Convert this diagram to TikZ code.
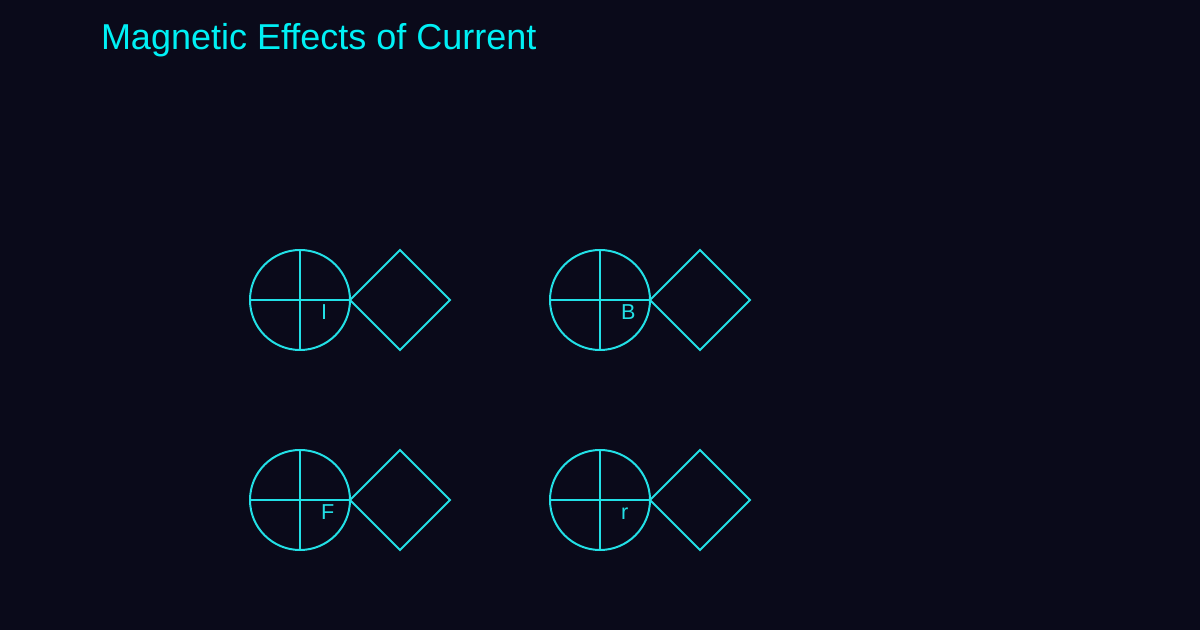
\documentclass[tikz,border=0pt]{standalone}
\usepackage{fontspec}
\setmainfont{Liberation Sans}
\usetikzlibrary{shapes.geometric}
\definecolor{bgnavy}{RGB}{10,10,26}
\definecolor{wirecyan}{RGB}{34,224,230}
\definecolor{titlecyan}{RGB}{0,240,245}

\begin{document}
\begin{tikzpicture}[x=0.5pt,y=-0.5pt,line width=1pt,
  coil/.style={circle,draw=wirecyan,inner sep=0pt,outer sep=0pt,minimum size=50pt},
  gem/.style={diamond,draw=wirecyan,inner sep=0pt,outer sep=0pt,minimum width=50pt,minimum height=50pt},
  sym/.style={anchor=base west,inner sep=0pt,text=wirecyan,font=\fontsize{10.8}{12}\selectfont}]

\fill [bgnavy] (0,0) rectangle (1200,630);
\useasboundingbox (0,0) rectangle (1200,630);

\node [anchor=base west,inner sep=0pt,text=titlecyan,font=\fontsize{18}{21}\selectfont] (title) at (100,50) {Magnetic Effects of Current};

% four field units
\foreach \cx/\cy/\lbl/\nm in {300/300/I/cur, 600/300/B/fld, 300/500/F/frc, 600/500/r/rad}
{
  \node [coil] (\nm circ) at (\cx,\cy) {};
  \node [gem] (\nm gem) at (\cx+100,\cy) {};
  \draw [wirecyan] (\nm circ.north) -- (\nm circ.south);
  \draw [wirecyan] (\nm circ.west) -- (\nm circ.east);
  \node [sym] (\nm lbl) at (\cx+20,\cy+20) {\lbl};
}

\end{tikzpicture}
\end{document}
